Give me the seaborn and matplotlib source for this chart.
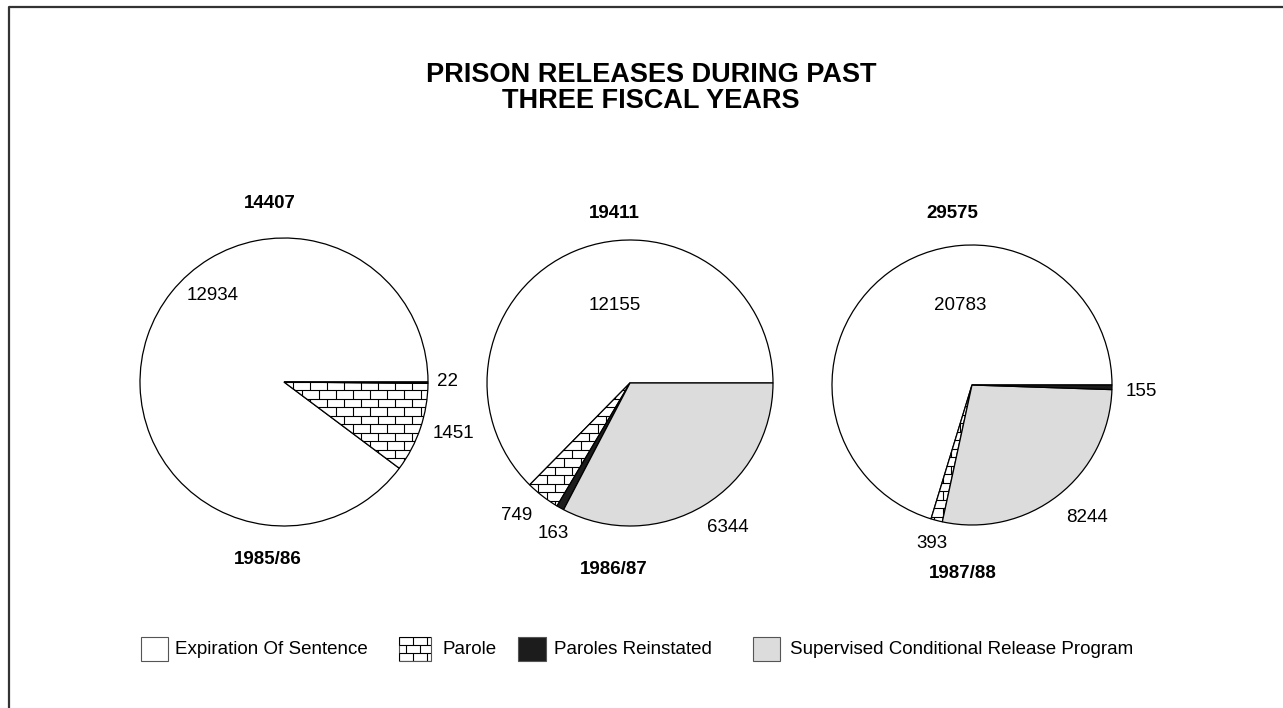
import numpy as np
import seaborn as sns
import matplotlib.pyplot as plt
from matplotlib.patches import Rectangle
from matplotlib.collections import LineCollection

# data
years = ["1985/86", "1986/87", "1987/88"]
totals = [14407, 19411, 29575]
pie_categories = [
    ["Expiration Of Sentence", "Parole", "Paroles Reinstated"],
    ["Expiration Of Sentence", "Parole", "Paroles Reinstated",
     "Supervised Conditional Release Program"],
    ["Expiration Of Sentence", "Parole",
     "Supervised Conditional Release Program", "Paroles Reinstated"],
]
pie_values = [
    [12934, 1451, 22],
    [12155, 749, 163, 6344],
    [20783, 393, 8244, 155],
]
legend_order = ["Expiration Of Sentence", "Parole", "Paroles Reinstated",
                "Supervised Conditional Release Program"]

# styles
fills = {
    "Expiration Of Sentence": "white",
    "Parole": "white",
    "Paroles Reinstated": "#1c1c1c",
    "Supervised Conditional Release Program": "#dcdcdc",
}

# layout, in pixels of a 1283x708 canvas (y measured from the top)
W, H = 1283, 708
centers = [(284, 382), (630, 383), (972, 385)]
radii = [144, 143, 140]
total_pos = [(270, 204), (614, 213), (952, 213)]
year_pos = [(268, 560), (614, 570), (963, 574)]
label_pos = [
    [(213, 295), (453, 433), (447, 381)],
    [(615, 305), (517, 515), (553, 534), (728, 527)],
    [(960, 305), (932, 544), (1087, 517), (1141, 392)],
]
# (box left, box width, text left)
legend_boxes = [(141, 27, 175), (399, 32, 442), (518, 28, 554), (753, 27, 790)]

sns.set_theme(style="white")
plt.rcParams["font.family"] = ["Liberation Sans", "DejaVu Sans"]
plt.rcParams["text.color"] = "black"


def fy(y):
    return H - y


def add_bricks(ax, patch, x0, x1, y0, y1, bw=17.0, bh=8.5):
    """brick texture clipped to a patch"""
    segs = []
    rows = int((y1 - y0) / bh) + 2
    for i in range(rows):
        y = y0 + i * bh
        segs.append([(x0, y), (x1, y)])
        off = (bw / 2) * (i % 2)
        x = x0 + off
        while x < x1:
            segs.append([(x, y), (x, y + bh)])
            x += bw
    lc = LineCollection(segs, colors="black", linewidths=0.8, zorder=3)
    ax.add_collection(lc)
    lc.set_clip_path(patch)


fig = plt.figure(figsize=(W / 100, H / 100), dpi=100)
ax = fig.add_axes([0, 0, 1, 1])

for k in range(3):
    cx, cy = centers[k]
    cats = pie_categories[k]
    wedges, _ = ax.pie(
        pie_values[k],
        colors=[fills[c] for c in cats],
        center=(cx, fy(cy)),
        radius=radii[k],
        startangle=0,
        counterclock=True,
        frame=True,
        wedgeprops=dict(edgecolor="black", linewidth=0.9),
    )
    for w, c in zip(wedges, cats):
        if c == "Parole":
            add_bricks(ax, w, cx - radii[k], cx + radii[k],
                       fy(cy) - radii[k], fy(cy) + radii[k])
    for (lx, ly), v in zip(label_pos[k], pie_values[k]):
        ax.text(lx, fy(ly), str(v), ha="center", va="center", fontsize=13.5)
    ax.text(total_pos[k][0], fy(total_pos[k][1]), str(totals[k]),
            ha="center", va="center", fontsize=13.5, fontweight="bold")
    ax.text(year_pos[k][0], fy(year_pos[k][1]), years[k],
            ha="center", va="center", fontsize=13.5, fontweight="bold")

# legend drawn by hand to keep the original spacing
for (bx, bw, tx), c in zip(legend_boxes, legend_order):
    r = Rectangle((bx, fy(661)), bw, 24, facecolor=fills[c],
                  edgecolor="#555555", linewidth=0.8, zorder=2)
    ax.add_patch(r)
    if c == "Parole":
        add_bricks(ax, r, bx, bx + bw, fy(661), fy(637), bw=14, bh=8)
    ax.text(tx, fy(649), c, ha="left", va="center", fontsize=13.5)

ax.text(651, fy(75), "PRISON RELEASES DURING PAST", ha="center",
        va="center", fontsize=19.5, fontweight="bold")
ax.text(651, fy(101), "THREE FISCAL YEARS", ha="center",
        va="center", fontsize=19.5, fontweight="bold")

# page border (left and top edges only)
ax.plot([9, 9, W], [0, fy(7), fy(7)], color="#333333", linewidth=1.6)

ax.set_xlim(0, W)
ax.set_ylim(0, H)
ax.set_aspect("equal")
ax.axis("off")

fig.savefig("out.png", dpi=100)
